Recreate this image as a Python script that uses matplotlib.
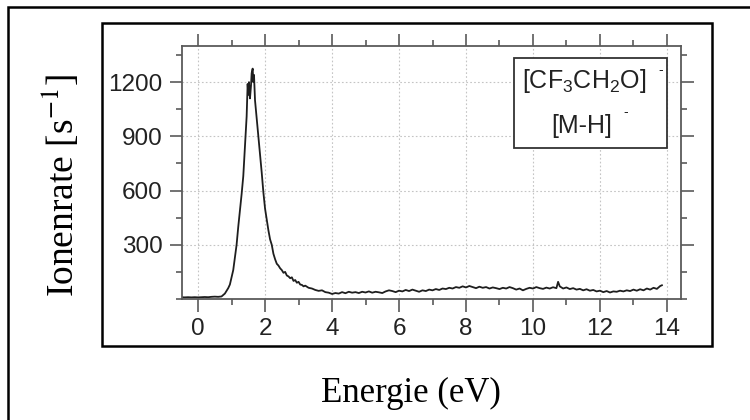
import matplotlib
matplotlib.use("Agg")
import matplotlib.pyplot as plt
from matplotlib.patches import Rectangle
from matplotlib.ticker import MultipleLocator

# Electron energy (eV) and ion yield (counts per second)
energy = [
    -0.5, -0.4, -0.3, -0.2, -0.1, 0.0, 0.1, 0.2, 0.3, 0.4, 0.5, 0.6, 0.7,
    0.75, 0.8, 0.85, 0.9, 0.95, 1.0, 1.05, 1.1, 1.15, 1.2, 1.25, 1.3, 1.35,
    1.4, 1.45, 1.48, 1.5, 1.52, 1.55, 1.58, 1.6, 1.63, 1.65, 1.67, 1.7,
    1.73, 1.76, 1.8, 1.85, 1.9, 1.95, 2.0, 2.05, 2.1, 2.15, 2.2, 2.25, 2.3,
    2.35, 2.4, 2.45, 2.5, 2.55, 2.6, 2.65, 2.7, 2.75, 2.8, 2.85, 2.9, 2.95,
    3.0, 3.05, 3.1, 3.15, 3.2, 3.3, 3.4, 3.5, 3.6, 3.7, 3.8, 3.9, 4.0, 4.1,
    4.2, 4.3, 4.4, 4.5, 4.6, 4.7, 4.8, 4.9, 5.0, 5.1, 5.2, 5.3, 5.4, 5.5,
    5.6, 5.7, 5.8, 5.9, 6.0, 6.1, 6.2, 6.3, 6.4, 6.5, 6.6, 6.7, 6.8, 6.9,
    7.0, 7.1, 7.2, 7.3, 7.4, 7.5, 7.6, 7.7, 7.8, 7.9, 8.0, 8.1, 8.2, 8.3,
    8.4, 8.5, 8.6, 8.7, 8.8, 8.9, 9.0, 9.1, 9.2, 9.3, 9.4, 9.5, 9.6, 9.7,
    9.8, 9.9, 10.0, 10.1, 10.2, 10.3, 10.4, 10.5, 10.6, 10.7, 10.75, 10.8,
    10.9, 11.0, 11.1, 11.2, 11.3, 11.4, 11.5, 11.6, 11.7, 11.8, 11.9, 12.0,
    12.1, 12.2, 12.3, 12.4, 12.5, 12.6, 12.7, 12.8, 12.9, 13.0, 13.1, 13.2,
    13.3, 13.4, 13.5, 13.6, 13.7, 13.8, 13.85,
]
ion_rate = [
    10, 9, 10, 9, 10, 9, 10, 11, 10, 12, 13, 12, 14,
    22, 30, 45, 60, 80, 120, 160, 230, 300, 400, 490, 580, 680,
    840, 1010, 1190, 1130, 1200, 1110, 1180, 1250, 1275, 1200, 1240, 1100,
    1040, 980, 900, 800, 700, 590, 500, 440, 380, 330, 300, 250, 220,
    195, 185, 170, 160, 145, 150, 130, 125, 115, 120, 100, 105, 90,
    95, 80, 78, 70, 74, 62, 58, 50, 45, 48, 38, 35, 28, 33,
    30, 38, 32, 40, 35, 38, 33, 40, 36, 42, 35, 40, 37, 33,
    42, 48, 44, 38, 46, 42, 50, 44, 52, 46, 40, 48, 44, 52,
    48, 55, 50, 58, 55, 62, 58, 66, 62, 70, 64, 72, 66, 60,
    68, 62, 66, 58, 64, 60, 55, 62, 58, 66, 60, 52, 58, 48,
    56, 62, 58, 66, 60, 56, 63, 58, 65, 60, 95, 70,
    58, 64, 55, 60, 52, 56, 48, 54, 46, 50, 42, 46,
    38, 44, 36, 42, 40, 46, 42, 48, 44, 52, 46, 54,
    48, 58, 52, 62, 56, 72, 76,
]

x_ticks = [0, 2, 4, 6, 8, 10, 12, 14]
y_ticks = [300, 600, 900, 1200]

plt.rcParams["font.family"] = ["Liberation Sans", "DejaVu Sans"]
plt.rcParams["mathtext.fontset"] = "custom"
plt.rcParams["mathtext.rm"] = "Liberation Sans"
plt.rcParams["mathtext.it"] = "Liberation Sans:italic"

W, H = 750, 420
fig = plt.figure(figsize=(W / 100, H / 100), dpi=100)


def fx(px):
    return px / W


def fy(py):
    return 1 - py / H


# outer and inner frames
fig.add_artist(Rectangle((fx(8), fy(420) - 0.02), 1.2, fy(7) - fy(420) + 0.02,
                         transform=fig.transFigure, fill=False,
                         edgecolor="black", linewidth=1.8))
fig.add_artist(Rectangle((fx(102), fy(346)), fx(712) - fx(102), fy(23) - fy(346),
                         transform=fig.transFigure, fill=False,
                         edgecolor="black", linewidth=1.8))

ax = fig.add_axes([fx(182), fy(299), fx(681) - fx(182), fy(46) - fy(299)])
ax.plot(energy, ion_rate, color="#1e1e1e", linewidth=1.3)

ax.set_xlim(-0.48, 14.42)
ax.set_ylim(0, 1400)
ax.set_xticks(x_ticks)
ax.set_yticks(y_ticks)
ax.xaxis.set_minor_locator(MultipleLocator(1))
ax.yaxis.set_minor_locator(MultipleLocator(150))

spine_col = "#5a5a5a"
for s in ax.spines.values():
    s.set_color(spine_col)
    s.set_linewidth(1.3)

ax.tick_params(which="both", direction="out", color=spine_col, width=1.2,
               top=True, right=True, labeltop=False, labelright=False,
               labelsize=17.5, labelcolor="#222222")
ax.tick_params(which="major", length=9)
ax.tick_params(which="minor", length=4.5)
ax.tick_params(axis="x", which="major", pad=5)
ax.tick_params(axis="y", which="major", pad=5)

ax.grid(True, which="major", color="#c4c4c4", linestyle=(0, (1.5, 2)),
        linewidth=0.8)
ax.set_axisbelow(True)

# species box
ax.add_patch(Rectangle((0.665, 0.597), 0.307, 0.356, transform=ax.transAxes,
                       facecolor="white", edgecolor="#333333", linewidth=1.3,
                       zorder=5))
ax.text(0.806, 0.834, r"[CF$_3$CH$_2$O]", transform=ax.transAxes,
        ha="center", va="baseline", fontsize=18,
        color="#222222", zorder=6)
ax.text(0.80, 0.656, "[M-H]", transform=ax.transAxes,
        ha="center", va="baseline", fontsize=18,
        color="#222222", zorder=6)
ax.text(0.96, 0.905, "-", transform=ax.transAxes, ha="center", va="center",
        fontsize=10, color="#222222", zorder=6)
ax.text(0.89, 0.739, "-", transform=ax.transAxes, ha="center", va="center",
        fontsize=10, color="#222222", zorder=6)

# axis titles
t = fig.text(fx(61), fy(185), r"Ionenrate [s$^{\mathrm{-}1}$]", rotation=90,
             ha="center", va="center", fontsize=27, family="Liberation Serif")
t.set_math_fontfamily("stix")
fig.text(fx(411), fy(402), "Energie (eV)", ha="center", va="baseline",
         fontsize=25, family="Liberation Serif")

fig.savefig("out.png", dpi=100, facecolor="white")
